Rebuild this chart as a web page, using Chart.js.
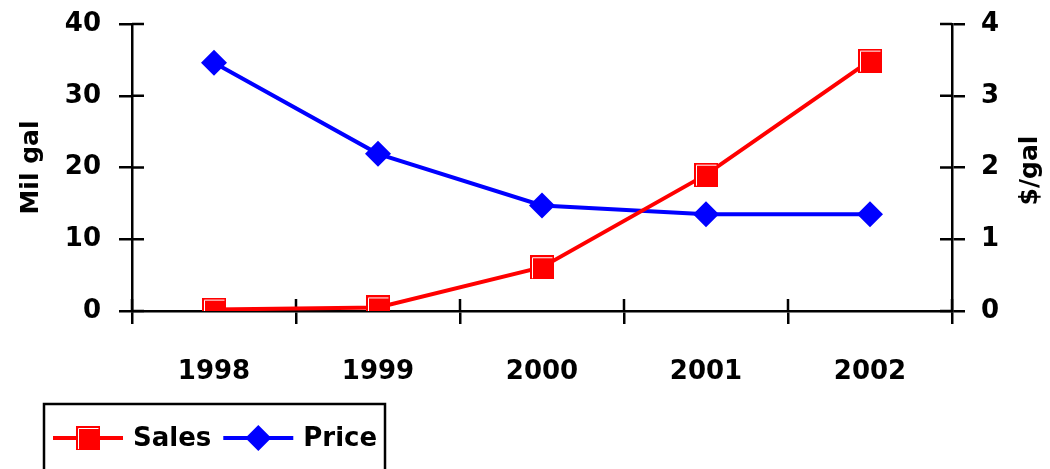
<!DOCTYPE html>
<html>
<head>
<meta charset="utf-8">
<script src="https://cdn.jsdelivr.net/npm/chart.js@4.4.1/dist/chart.umd.min.js"></script>
<style>
  html, body { margin: 0; padding: 0; background: #fff; }
  #wrap { width: 1050px; height: 469px; position: relative; }
</style>
</head>
<body>
<div id="wrap"><canvas id="chartVentas"></canvas></div>
<script>
// series
const years = ['1998', '1999', '2000', '2001', '2002'];
const sales = [0.2, 0.5, 6.1, 19.0, 34.9];      // Mil gal
const price = [3.46, 2.19, 1.47, 1.35, 1.35];   // $/gal

const FONT = "'DejaVu Sans', 'Verdana', sans-serif";

// red square with the little white highlight on top/left
function cuadroVentas() {
    const c = document.createElement('canvas');
    c.width = 24; c.height = 24;
    const g = c.getContext('2d');
    g.fillStyle = '#ff0000';
    g.fillRect(0, 0, 24, 24);
    g.strokeStyle = '#ffffff';
    g.lineWidth = 1;
    g.beginPath();
    g.moveTo(2.5, 23);
    g.lineTo(2.5, 2.5);
    g.lineTo(22.5, 2.5);
    g.stroke();
    return c;
}
const marcaVentas = cuadroVentas();

// ticks that cross the axis (Chart.js only draws the outer half)
const ticksCruzados = {
    id: 'ticksCruzados',
    beforeDatasetsDraw(chart) {
        const ctx = chart.ctx;
        const len = 12;
        ctx.save();
        ctx.strokeStyle = '#000';
        ctx.lineWidth = 2.5;
        ctx.beginPath();
        const yL = chart.scales.y;
        yL.ticks.forEach((t, i) => {
            const p = yL.getPixelForTick(i);
            ctx.moveTo(yL.right, p); ctx.lineTo(yL.right + len, p);
        });
        const yR = chart.scales.y2;
        yR.ticks.forEach((t, i) => {
            const p = yR.getPixelForTick(i);
            ctx.moveTo(yR.left, p); ctx.lineTo(yR.left - len, p);
        });
        const x = chart.scales.x;
        const n = x.ticks.length;
        for (let k = 0; k <= n; k++) {
            const p = x.left + k * x.width / n;
            ctx.moveTo(p, x.top); ctx.lineTo(p, x.top - len);
        }
        ctx.stroke();
        ctx.restore();
    }
};

// right axis title reads bottom-to-top like the left one
const tituloDerecho = {
    id: 'tituloDerecho',
    afterDraw(chart) {
        const s = chart.scales.y2;
        const ctx = chart.ctx;
        ctx.save();
        ctx.translate(1030, (chart.chartArea.top + chart.chartArea.bottom) / 2 + 3);
        ctx.rotate(-Math.PI / 2);
        ctx.font = 'bold 25px ' + FONT;
        ctx.fillStyle = '#000';
        ctx.textAlign = 'center';
        ctx.textBaseline = 'middle';
        ctx.fillText(s.options.title.text, 0, 0);
        ctx.restore();
    }
};

// boxed legend: line + marker + label for each dataset
const leyendaCaja = {
    id: 'leyendaCaja',
    afterDraw(chart) {
        const ctx = chart.ctx;
        ctx.save();
        ctx.strokeStyle = '#000';
        ctx.lineWidth = 2.5;
        ctx.strokeRect(44, 404, 341, 90);

        ctx.font = 'bold 26px ' + FONT;
        ctx.textBaseline = 'middle';
        let xx = 53;
        const yy = 438;
        chart.data.datasets.forEach(ds => {
            ctx.strokeStyle = ds.borderColor;
            ctx.lineWidth = 4;
            ctx.beginPath();
            ctx.moveTo(xx, yy); ctx.lineTo(xx + 70, yy);
            ctx.stroke();
            const cx = xx + 35;
            if (ds.pointStyle === 'rectRot') {
                const r = ds.pointRadius;
                ctx.fillStyle = ds.pointBackgroundColor;
                ctx.beginPath();
                ctx.moveTo(cx, yy - r); ctx.lineTo(cx + r, yy);
                ctx.lineTo(cx, yy + r); ctx.lineTo(cx - r, yy);
                ctx.closePath();
                ctx.fill();
            } else {
                const img = ds.pointStyle;
                ctx.drawImage(img, cx - img.width / 2, yy - img.height / 2);
            }
            ctx.fillStyle = '#000';
            ctx.fillText(ds.label, xx + 80, yy + 1);
            xx += 80 + ctx.measureText(ds.label).width + 12;
        });
        ctx.restore();
    }
};

// fixed axis widths, and no extra top/bottom padding from the tick labels
function fijarEje(ancho) {
    return s => {
        s.width = ancho;
        s.paddingTop = 0;
        s.paddingBottom = 0;
    };
}

const ctx = document.getElementById('chartVentas').getContext('2d');

new Chart(ctx, {
    type: 'line',
    data: {
        labels: years,
        datasets: [{
            label: 'Sales',
            data: sales,
            yAxisID: 'y',
            borderColor: '#ff0000',
            borderWidth: 4,
            pointStyle: marcaVentas,
            pointBackgroundColor: '#ff0000',
            tension: 0
        }, {
            label: 'Price',
            data: price,
            yAxisID: 'y2',
            borderColor: '#0000ff',
            borderWidth: 4,
            pointStyle: 'rectRot',
            pointRadius: 13,
            pointBorderWidth: 0,
            pointBackgroundColor: '#0000ff',
            tension: 0
        }]
    },
    options: {
        responsive: true,
        maintainAspectRatio: false,
        animation: false,
        layout: { padding: { top: 24, bottom: 81, left: 0, right: 0 } },
        plugins: {
            legend: { display: false },
            tooltip: { enabled: false }
        },
        scales: {
            x: {
                offset: true,
                grid: {
                    offset: true,
                    drawOnChartArea: false,
                    tickLength: 13,
                    color: '#000',
                    lineWidth: 2.5
                },
                border: { color: '#000', width: 2.5 },
                ticks: {
                    color: '#000',
                    padding: 33,
                    font: { family: FONT, size: 26, weight: 'bold' }
                },
                afterFit: s => { s.height = 77; }
            },
            y: {
                position: 'left',
                min: 0, max: 40,
                ticks: {
                    stepSize: 10,
                    color: '#000',
                    padding: 18,
                    font: { family: FONT, size: 26, weight: 'bold' }
                },
                grid: {
                    drawOnChartArea: false,
                    tickLength: 13,
                    color: '#000',
                    lineWidth: 2.5
                },
                border: { color: '#000', width: 2.5 },
                title: {
                    display: true,
                    text: 'Mil gal',
                    color: '#000',
                    padding: { top: 16, bottom: 0 },
                    font: { family: FONT, size: 25, weight: 'bold' }
                },
                afterFit: fijarEje(132)
            },
            y2: {
                position: 'right',
                min: 0, max: 4,
                ticks: {
                    stepSize: 1,
                    color: '#000',
                    padding: 16,
                    font: { family: FONT, size: 26, weight: 'bold' }
                },
                grid: {
                    drawOnChartArea: false,
                    tickLength: 13,
                    color: '#000',
                    lineWidth: 2.5
                },
                border: { color: '#000', width: 2.5 },
                title: { display: false, text: '$/gal' },
                afterFit: fijarEje(98)
            }
        }
    },
    plugins: [ticksCruzados, tituloDerecho, leyendaCaja]
});
</script>
</body>
</html>
